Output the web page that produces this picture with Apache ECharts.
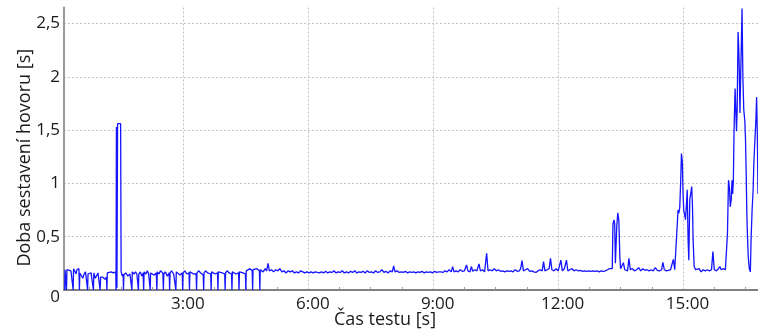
<!DOCTYPE html>
<html>
<head>
<meta charset="utf-8">
<script src="https://cdn.jsdelivr.net/npm/echarts@6/dist/echarts.min.js"></script>
<style>
  html, body { margin: 0; padding: 0; background: #fff; }
  #chart { width: 758px; height: 333px; }
</style>
</head>
<body>
<div id="chart"></div>
<script>
// Call setup time [s] against test time [s], as [time, delay] pairs.

// Start-up phase: periodic failed calls (delay 0) and one slow call.
const startupCalls = [
  [9, 0.0], [9.5, 0.19], [11, 0.19], [11.6, 0], [12.2, 0.19], [15, 0.19], [18, 0.18], [20.6, 0.19],
  [21.2, 0], [21.8, 0.2], [24, 0.2], [25.5, 0.15], [26.5, 0.19], [29.5, 0.2], [30.2, 0], [30.8, 0.16],
  [33, 0.16], [35, 0.11], [37, 0.15], [39, 0.17], [41.5, 0.16], [42, 0], [42.6, 0.15], [45, 0.16],
  [47, 0.16], [49.8, 0.15], [50.4, 0], [51, 0.16], [53, 0.11], [55, 0.1], [57, 0.16], [59.4, 0.15],
  [60, 0], [60.8, 0.12], [64, 0.12], [67, 0.1], [69.2, 0.12], [69.8, 0], [70.4, 0.16], [73, 0.15],
  [76, 0.17], [79, 0.16], [80.5, 0.17], [82.6, 0.17], [83, 0], [83.5, 1.53], [84.3, 0.02], [85.2, 1.56],
  [89.6, 1.56], [90.3, 0.17], [92, 0.13], [93.2, 0.15], [93.7, 0], [94.3, 0.14], [97, 0.16], [100, 0.13],
  [103, 0.15], [105.2, 0.16], [105.8, 0], [106.4, 0.17], [109, 0.15], [111, 0.17], [113, 0.15], [114.6, 0.16],
  [115.2, 0], [115.8, 0.15], [118, 0.17], [120, 0.13], [122, 0.16], [122.8, 0], [123.4, 0.17], [126, 0.15],
  [128, 0.18], [130, 0.15], [131.6, 0.16], [132.2, 0], [132.8, 0.16], [135, 0.17], [138, 0.14], [141, 0.16],
  [141.8, 0], [142.4, 0.17], [145, 0.15], [147, 0.18], [150.5, 0.16], [151.2, 0], [151.8, 0.15], [154, 0.17],
  [157, 0.13], [159.6, 0.16], [160.2, 0], [160.8, 0.16], [163, 0.18], [166, 0.15], [168.6, 0.16], [169.2, 0],
  [169.8, 0.17], [172, 0.18], [175, 0.14], [178.4, 0.16], [179, 0], [179.6, 0.16], [182, 0.18], [185, 0.15],
  [188.2, 0.16], [188.8, 0], [189.4, 0.17], [192, 0.18], [195, 0.15], [198.4, 0.15], [199, 0], [199.6, 0.16],
  [202, 0.18], [205, 0.16], [208.6, 0.14], [209.2, 0], [209.8, 0.16], [212, 0.18], [215, 0.16], [219.4, 0.15],
  [220, 0], [220.6, 0.17], [223, 0.17], [226, 0.15], [229.2, 0.16], [229.8, 0], [230.4, 0.17], [233, 0.18],
  [236, 0.16], [239.6, 0.15], [240.2, 0], [240.8, 0.16], [243, 0.18], [246, 0.16], [249.4, 0.15], [250, 0],
  [250.6, 0.17], [253, 0.17], [256, 0.15], [259.6, 0.16], [260.2, 0], [260.8, 0.17], [263, 0.18], [266, 0.16],
  [269.4, 0.15], [270, 0], [270.6, 0.18], [273, 0.17], [276, 0.2], [279.2, 0.18], [279.8, 0], [280.4, 0.19],
  [283, 0.18], [286, 0.2], [289.6, 0.18], [290.2, 0], [290.8, 0.19]
];

// Steady phase: stable delays with occasional short peaks.
const steadyCalls = [
  [292, 0.19], [295, 0.17], [298, 0.2], [300, 0.18], [302, 0.25], [304, 0.18], [307, 0.19], [310, 0.17],
  [313, 0.19], [316, 0.18], [319, 0.2], [322, 0.17], [325, 0.18], [328, 0.16], [331, 0.18], [334, 0.17],
  [337, 0.18], [340, 0.16], [343, 0.17], [346, 0.16], [349, 0.18], [352, 0.17], [355, 0.16], [358, 0.17],
  [361, 0.16], [364, 0.17], [367, 0.16], [370, 0.17], [373, 0.165], [376, 0.16], [379, 0.17], [382, 0.16],
  [385, 0.175], [388, 0.16], [391, 0.17], [394, 0.165], [397, 0.18], [400, 0.16], [403, 0.17], [406, 0.165],
  [409, 0.18], [412, 0.16], [415, 0.17], [418, 0.16], [421, 0.175], [424, 0.165], [427, 0.18], [430, 0.16],
  [433, 0.17], [436, 0.165], [439, 0.175], [442, 0.16], [445, 0.18], [448, 0.165], [451, 0.17], [454, 0.16],
  [457, 0.18], [460, 0.165], [463, 0.17], [466, 0.19], [469, 0.165], [472, 0.175], [475, 0.16], [478, 0.18],
  [481, 0.17], [483, 0.225], [485, 0.17], [488, 0.18], [491, 0.165], [494, 0.17], [497, 0.165], [500, 0.175],
  [503, 0.16], [506, 0.17], [509, 0.165], [512, 0.17], [515, 0.16], [518, 0.17], [521, 0.165], [524, 0.175],
  [527, 0.16], [530, 0.17], [533, 0.165], [536, 0.17], [539, 0.16], [542, 0.175], [545, 0.165], [548, 0.17],
  [551, 0.17], [554, 0.165], [557, 0.18], [560, 0.17], [563, 0.19], [566, 0.17], [568, 0.22], [570, 0.17],
  [573, 0.18], [576, 0.17], [579, 0.19], [582, 0.175], [585, 0.18], [588, 0.235], [590, 0.18], [593, 0.17],
  [595, 0.22], [597, 0.175], [600, 0.19], [603, 0.18], [606, 0.245], [608, 0.18], [611, 0.19], [614, 0.17],
  [617, 0.344], [619, 0.18], [622, 0.19], [625, 0.18], [628, 0.2], [631, 0.18], [634, 0.19], [637, 0.175],
  [640, 0.18], [643, 0.17], [646, 0.18], [649, 0.175], [652, 0.18], [655, 0.17], [658, 0.19], [661, 0.175],
  [664, 0.18], [666, 0.2], [668, 0.275], [670, 0.18], [673, 0.19], [676, 0.2], [679, 0.175], [682, 0.18],
  [685, 0.17], [688, 0.165], [691, 0.18], [694, 0.19], [697, 0.18], [699, 0.266], [701, 0.18], [704, 0.19],
  [707, 0.2], [709, 0.297], [711, 0.19], [714, 0.18], [717, 0.2], [720, 0.18]
];

// Late phase: first congestion bursts.
const lateCalls = [
  [722, 0.175], [724, 0.28], [726, 0.18], [729, 0.2], [732, 0.28], [734, 0.18], [737, 0.19], [740, 0.2],
  [743, 0.18], [746, 0.19], [749, 0.18], [752, 0.185], [755, 0.175], [758, 0.18], [761, 0.175], [764, 0.18],
  [767, 0.175], [770, 0.18], [773, 0.175], [776, 0.18], [779, 0.17], [782, 0.18], [785, 0.175], [788, 0.18],
  [791, 0.19], [794, 0.2], [796, 0.19], [798, 0.2], [799, 0.62], [800.5, 0.657], [801.5, 0.62], [802.5, 0.25],
  [803.5, 0.235], [804.5, 0.6], [806, 0.725], [807.5, 0.65], [809, 0.3], [810, 0.2], [812, 0.19], [814, 0.256],
  [816, 0.19], [818, 0.2], [820, 0.18], [822, 0.297], [824, 0.19], [827, 0.2], [830, 0.18], [833, 0.19],
  [836, 0.21], [839, 0.18], [842, 0.2], [845, 0.185], [848, 0.19], [851, 0.18], [854, 0.19], [857, 0.18],
  [860, 0.21], [863, 0.185], [866, 0.18], [869, 0.19], [871, 0.26], [873, 0.19], [876, 0.18], [879, 0.185],
  [882, 0.19], [884, 0.2], [886, 0.288], [888, 0.19], [890.5, 0.19]
];

// Overload phase: long setup times.
const overloadCalls = [
  [892.8, 0.75], [894, 0.72], [895.3, 0.78], [896.5, 1.0], [897.7, 1.28], [899, 1.2], [900, 0.9], [901, 0.75],
  [902.5, 0.7], [903.5, 0.66], [905, 0.81], [906, 0.94], [907.3, 0.47], [908.3, 0.28], [909.7, 0.85], [911, 0.9],
  [912.5, 0.97], [913.6, 0.78], [914.5, 0.47], [916, 0.22], [918, 0.19], [920, 0.18], [923, 0.2], [926, 0.17],
  [927, 0.155], [929, 0.19], [932, 0.18], [935, 0.19], [938, 0.18], [941, 0.19], [943, 0.36], [945, 0.19],
  [948, 0.18], [951, 0.2], [953, 0.22], [955, 0.19], [958, 0.2], [961, 0.19], [963, 0.2], [964, 0.53],
  [965.5, 1.03], [967, 0.95], [968, 0.78], [969.5, 0.85], [970.5, 1.03], [971.5, 0.9], [972.5, 1.03], [973.5, 1.5],
  [975, 1.89], [976, 1.69], [977, 1.49], [978, 1.7], [979.3, 2.42], [980.2, 2.28], [981, 2.09], [982, 1.66],
  [983, 2.0], [984, 2.3], [985, 2.64], [986.2, 2.0], [987.5, 1.69], [989, 1.59], [990, 1.41], [991, 1.09],
  [992, 0.69], [993, 0.47], [994, 0.31], [995.5, 0.2], [997, 0.17], [998, 0.47], [999.5, 0.75], [1001, 0.94],
  [1002, 1.19], [1003.5, 1.4], [1005, 1.6], [1006, 1.81], [1007, 1.47], [1008, 0.9]
];

const timeTicks = [180, 360, 540, 720, 900];
const minorTimeTicks = [45, 90, 135, 225, 270, 315, 405, 450, 495, 585, 630, 675, 765, 810, 855, 945, 990];
const delayTicks = [0, 0.5, 1, 1.5, 2, 2.5];

const FONT = '"Open Sans", "Noto Sans", sans-serif';
const series = [].concat(startupCalls, steadyCalls, lateCalls, overloadCalls);

function mmss(v) {
  const m = Math.floor(v / 60), s = Math.round(v % 60);
  return m + ':' + (s < 10 ? '0' : '') + s;
}

const chart = echarts.init(document.getElementById('chart'), null, { renderer: 'canvas' });
chart.setOption({
  animation: false,
  backgroundColor: '#ffffff',
  grid: { left: 64, right: 0, top: 7.5, bottom: 43, containLabel: false, outerBoundsMode: 'none' },
  xAxis: [{
    type: 'value', min: 8, max: 1008,
    name: 'Čas testu [s]', nameLocation: 'middle', nameGap: 21, nameMoveOverlap: false,
    nameTextStyle: { fontFamily: FONT, fontSize: 18, color: '#1a1a1a', padding: [0, 52, 0, 0] },
    axisLine: { show: true, lineStyle: { color: '#808080', width: 2 } },
    axisTick: { show: false, customValues: timeTicks },
    axisLabel: {
      customValues: timeTicks, formatter: mmss, margin: 6, padding: [0, 0, 0, 9],
      fontFamily: FONT, fontSize: 17, color: '#1a1a1a'
    },
    splitLine: { show: true, lineStyle: { color: '#c4c4c4', type: [2, 2], width: 1 } }
  }, {
    type: 'value', min: 8, max: 1008, position: 'bottom',
    axisLine: { show: false },
    axisTick: { show: true, inside: true, length: 3, customValues: minorTimeTicks, lineStyle: { color: '#999' } },
    axisLabel: { show: false },
    splitLine: { show: false }
  }],
  yAxis: {
    type: 'value', min: 0, max: 2.65,
    name: 'Doba sestavení hovoru [s]', nameLocation: 'middle', nameGap: 30, nameMoveOverlap: false,
    nameTextStyle: { fontFamily: FONT, fontSize: 18, color: '#1a1a1a', padding: [0, 18, 0, 0] },
    axisLine: { show: true, lineStyle: { color: '#9a9a9a', width: 2 } },
    axisTick: { show: false, customValues: delayTicks },
    axisLabel: {
      customValues: delayTicks, margin: 4,
      fontFamily: FONT, fontSize: 17, color: '#1a1a1a',
      formatter: v => v === 0 ? '{z|0}' : String(v).replace('.', ','),
      rich: { z: { fontFamily: FONT, fontSize: 17, color: '#1a1a1a', padding: [14, 0, 0, 0] } }
    },
    splitLine: { show: true, lineStyle: { color: '#c4c4c4', type: [2, 2], width: 1 } }
  },
  series: [{
    type: 'line', xAxisIndex: 0, data: series, showSymbol: false, symbol: 'none',
    lineStyle: { color: '#1414ff', width: 1.3 }, clip: true
  }]
});
</script>
</body>
</html>
